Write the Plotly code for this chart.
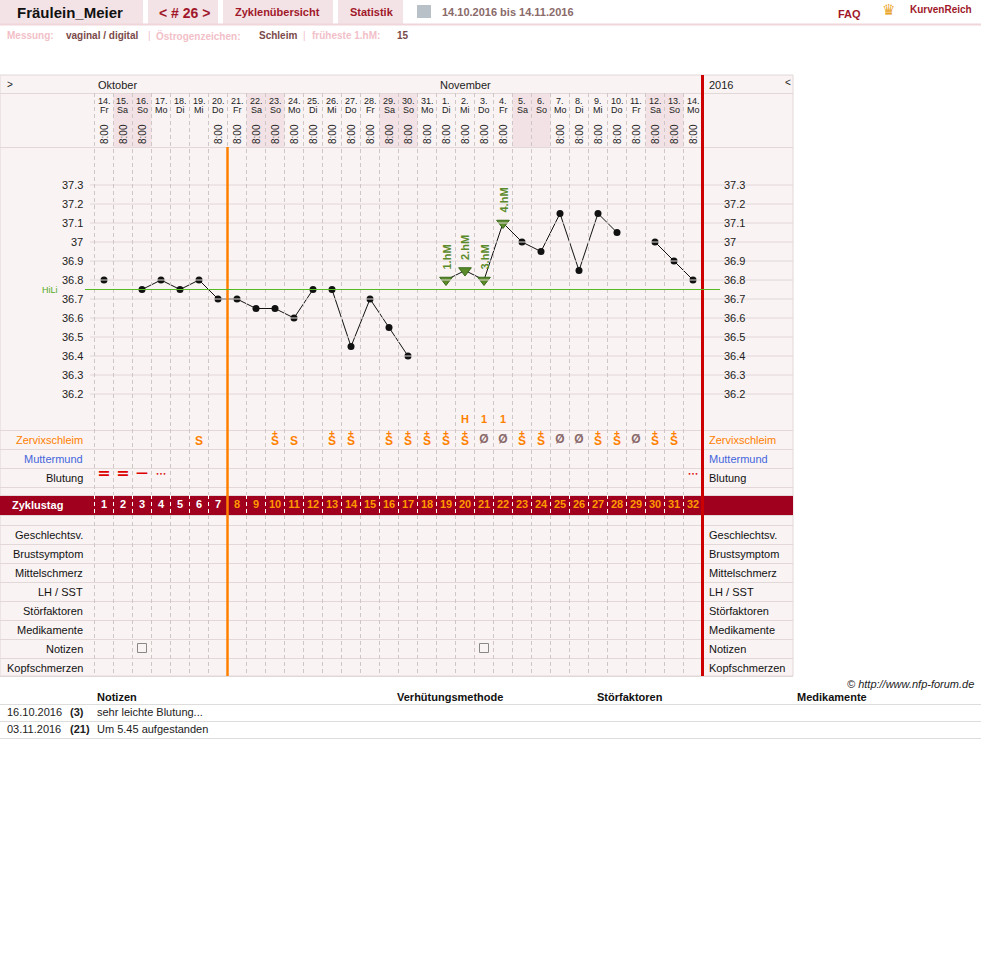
import plotly.graph_objects as go

W, H = 981, 976
FONT = "Liberation Sans"

# --- data ---
days = [14, 15, 16, 17, 18, 19, 20, 21, 22, 23, 24, 25, 26, 27, 28, 29, 30, 31,
        1, 2, 3, 4, 5, 6, 7, 8, 9, 10, 11, 12, 13, 14]
weekdays = ["Fr", "Sa", "So", "Mo", "Di", "Mi", "Do", "Fr", "Sa", "So", "Mo", "Di", "Mi", "Do", "Fr",
            "Sa", "So", "Mo", "Di", "Mi", "Do", "Fr", "Sa", "So", "Mo", "Di", "Mi", "Do", "Fr", "Sa", "So", "Mo"]
times = ["8:00", "8:00", "8:00", "", "", "", "8:00", "8:00", "8:00", "8:00", "8:00", "8:00", "8:00",
         "8:00", "8:00", "8:00", "8:00", "8:00", "8:00", "8:00", "8:00", "8:00", "", "", "8:00",
         "8:00", "8:00", "8:00", "8:00", "8:00", "8:00", "8:00"]
temps = [36.8, None, 36.75, 36.8, 36.75, 36.8, 36.7, 36.7, 36.65, 36.65, 36.6, 36.75, 36.75,
         36.45, 36.7, 36.55, 36.4, None, 36.8, 36.85, 36.8, 37.1, 37.0, 36.95, 37.15, 36.85,
         37.15, 37.05, None, 37.0, 36.9, 36.8]
hm_days = [18, 19, 20, 21]
hm_labels = ["1.hM", "2.hM", "3.hM", "4.hM"]
temp_ticks = [37.3, 37.2, 37.1, 37.0, 36.9, 36.8, 36.7, 36.6, 36.5, 36.4, 36.3, 36.2]
temp_tick_labels = ["37.3", "37.2", "37.1", "37", "36.9", "36.8", "36.7", "36.6", "36.5", "36.4", "36.3", "36.2"]
hili = 36.75
peak_days = [19, 20, 21]
peak_marks = ["H", "1", "1"]
schleim_days = [5, 9, 10, 12, 13, 15, 16, 17, 18, 19, 20, 21, 22, 23, 24, 25, 26, 27, 28, 29, 30]
schleim_vals = ["S", "S+", "S", "S+", "S+", "S+", "S+", "S+", "S+", "S+", "Ø", "Ø", "S+", "S+",
                "Ø", "Ø", "S+", "S+", "Ø", "S+", "S+"]
blutung_days = [0, 1, 2, 3, 31]
blutung_vals = ["stark", "stark", "normal", "leicht", "leicht"]
notiz_days = [2, 20]
cover_line_day = 7
rows_top = ["Zervixschleim", "Muttermund", "Blutung"]
rows_bottom = ["Geschlechtsv.", "Brustsymptom", "Mittelschmerz", "LH / SST", "Störfaktoren",
               "Medikamente", "Notizen", "Kopfschmerzen"]
note_dates = ["16.10.2016", "03.11.2016"]
note_cycle = ["(3)", "(21)"]
note_texts = ["sehr leichte Blutung...", "Um 5.45 aufgestanden"]

n = len(days)
idx = list(range(n))
X0, DX = 104, 19  # pixel center of first column, column width


def px(x):
    return x / W


def py(y):
    return 1 - y / H


def cx(i):
    return X0 + DX * i


shapes, ann = [], []


def rect(x0, y0, x1, y1, fill, line=None):
    shapes.append(dict(type="rect", xref="paper", yref="paper", x0=px(x0), x1=px(x1),
                       y0=py(y1), y1=py(y0), fillcolor=fill, line=dict(width=0) if line is None else line,
                       layer="below"))


def hline(y, x0, x1, color="#e2d8d8", width=1):
    shapes.append(dict(type="line", xref="paper", yref="paper", x0=px(x0), x1=px(x1),
                       y0=py(y), y1=py(y), line=dict(color=color, width=width)))


def text(x, y, t, size=11, color="#222", xanchor="left", bold=False, angle=0, italic=False):
    if bold:
        t = "<b>" + t + "</b>"
    if italic:
        t = "<i>" + t + "</i>"
    ann.append(dict(xref="paper", yref="paper", x=px(x), y=py(y), text=t, showarrow=False,
                    xanchor=xanchor, yanchor="middle", textangle=angle,
                    font=dict(family=FONT, size=size, color=color)))


# header
rect(0, 0, 143, 24, "#f3e3e6")
rect(148, 0, 218, 24, "#f3e3e6")
rect(223, 0, 333, 24, "#f3e3e6")
rect(338, 0, 403, 24, "#f3e3e6")
hline(24.5, 0, 981, "#f0d5da", 2)
text(15, 13, "Fräulein_Meier", 15, "#111", bold=True)
text(157, 13, "< # 26 >", 14, "#a0182a", bold=True)
text(233, 12, "Zyklenübersicht", 11, "#a0182a", bold=True)
text(348, 12, "Statistik", 11, "#a0182a", bold=True)
rect(417, 5, 431, 18, "#b8c0c8")
text(440, 12, "14.10.2016 bis 14.11.2016", 11, "#8a6a6a", bold=True)
text(836, 14, "FAQ", 11, "#a0182a", bold=True)
text(880, 10, "♛", 15, "#e8a020")
text(908, 10, "KurvenReich", 10, "#a0182a", bold=True)
text(5, 36, "Messung:", 10, "#f2c0c8", bold=True)
text(64, 36, "vaginal / digital", 10, "#7a4a4a", bold=True)
text(146, 36, "|", 10, "#f2c0c8")
text(154, 36, "Östrogenzeichen:", 10, "#f2c0c8", bold=True)
text(257, 36, "Schleim", 10, "#7a4a4a", bold=True)
text(301, 36, "|", 10, "#f2c0c8")
text(310, 36, "früheste 1.hM:", 10, "#f2c0c8", bold=True)
text(395, 36, "15", 10, "#7a4a4a", bold=True)

# chart background
rect(0, 75, 793, 676, "#f9f3f3", dict(color="#e2d8d8", width=1))
for i, wd in enumerate(weekdays):
    if wd in ("Sa", "So"):
        rect(cx(i) - 9.5, 93, cx(i) + 9.5, 147, "#f2e2e5")
rect(0, 495, 702, 515, "#a0001e")
rect(702, 495, 793, 515, "#a0001e")

for y in [93, 147, 430, 449, 468, 487, 495, 515, 525, 544, 563, 582, 601, 620, 639, 658, 676]:
    hline(y + 0.5, 0, 793)
for t in temp_ticks:
    shapes.append(dict(type="line", xref="paper", yref="y2", x0=px(90), x1=px(793), y0=t, y1=t,
                       line=dict(color="#e2d8d8", width=1)))
for i in range(n + 1):
    xx = X0 + DX * i - 9.5
    for (a, b, c) in [(93, 495, "#cfc6c6"), (495, 515, "#ffffff"), (515, 676, "#cfc6c6")]:
        shapes.append(dict(type="line", xref="paper", yref="paper", x0=px(xx), x1=px(xx),
                           y0=py(a), y1=py(b), line=dict(color=c, width=1, dash="4px,3px")))
# cover line / end of cycle
xo = X0 + DX * cover_line_day - 9.5
shapes.append(dict(type="line", xref="paper", yref="paper", x0=px(xo), x1=px(xo), y0=py(147), y1=py(676),
                   line=dict(color="#ff8000", width=2.5)))
xr = X0 + DX * n - 9.5
shapes.append(dict(type="line", xref="paper", yref="paper", x0=px(xr), x1=px(xr), y0=py(75), y1=py(676),
                   line=dict(color="#cc0000", width=3)))
# HiLi
shapes.append(dict(type="line", xref="paper", yref="y2", x0=px(85), x1=px(720), y0=hili, y1=hili,
                   line=dict(color="#55bb22", width=1)))
text(40, 290, "HiLi", 9, "#55aa22")

# month row
text(5, 84, ">", 10, "#222")
text(96, 85, "Oktober", 11, "#222")
text(438, 85, "November", 11, "#222")
text(707, 85, "2016", 11, "#222")
text(783, 83, "<", 10, "#222")

# date rows
for i in idx:
    text(cx(i), 101, f"{days[i]}.", 9, "#222", "center")
    text(cx(i), 110, weekdays[i], 9, "#222", "center")
    if times[i]:
        text(cx(i), 134, times[i], 10, "#222", "center", angle=-90)

# temperature tick labels
for t, lab in zip(temp_ticks, temp_tick_labels):
    ann.append(dict(xref="paper", yref="y2", x=px(85), y=t, text=lab, showarrow=False, xanchor="right",
                    font=dict(family=FONT, size=11, color="#222")))
    ann.append(dict(xref="paper", yref="y2", x=px(722), y=t, text=lab, showarrow=False, xanchor="left",
                    font=dict(family=FONT, size=11, color="#222")))

# row labels
lab_colors = {"Zervixschleim": "#ff8000", "Muttermund": "#4466dd"}
for k, lab in enumerate(rows_top):
    y = 440 + 19 * k
    text(85, y, lab, 11, lab_colors.get(lab, "#111"), "right")
    text(707, y, lab, 11, lab_colors.get(lab, "#111"))
for k, lab in enumerate(rows_bottom):
    y = 535 + 19 * k
    text(85, y, lab, 11, "#111", "right")
    text(707, y, lab, 11, "#111")
text(10, 505, "Zyklustag", 11, "#ffffff", bold=True)

text(976, 684, "© http://www.nfp-forum.de", 11, "#222", "right", italic=True)

# notes table
for lab, x in [("Notizen", 95), ("Verhütungsmethode", 395), ("Störfaktoren", 595), ("Medikamente", 795)]:
    text(x, 697, lab, 11, "#111", bold=True)
for y in [704.5, 721.5, 738.5]:
    hline(y, 0, 981, "#dddddd")
for k in range(len(note_dates)):
    y = 712 + 17 * k
    text(5, y, note_dates[k], 11, "#222")
    text(68, y, note_cycle[k], 11, "#222", bold=True)
    text(95, y, note_texts[k], 11, "#222")

fig = go.Figure()

# temperature curve
fig.add_trace(go.Scatter(x=idx, y=temps, yaxis="y2", mode="lines", connectgaps=False,
                         line=dict(color="#111", width=1)))
fig.add_trace(go.Scatter(x=[i for i in idx if temps[i] is not None and i not in hm_days],
                         y=[temps[i] for i in idx if temps[i] is not None and i not in hm_days],
                         yaxis="y2", mode="markers", marker=dict(color="#111", size=7)))
fig.add_trace(go.Scatter(x=hm_days, y=[temps[d] for d in hm_days], yaxis="y2", mode="markers",
                         marker=dict(symbol="triangle-down", color="#5a8a2a", size=11,
                                     line=dict(color="#3a6a1a", width=1))))
for d, lab in zip(hm_days, hm_labels):
    ann.append(dict(xref="x", yref="y2", x=d, y=temps[d], text="<b>" + lab + "</b>", showarrow=False,
                    textangle=-90, yanchor="bottom", yshift=8, font=dict(family=FONT, size=11, color="#5a8a2a")))

# peak marks
fig.add_trace(go.Scatter(x=peak_days, y=[420] * len(peak_days), mode="text",
                         text=["<b>" + m + "</b>" for m in peak_marks],
                         textfont=dict(family=FONT, size=11, color="#ff8000")))

# Zervixschleim
plus_days = [d for d, v in zip(schleim_days, schleim_vals) if v == "S+"]
s_days = [d for d, v in zip(schleim_days, schleim_vals) if v != "Ø"]
o_days = [d for d, v in zip(schleim_days, schleim_vals) if v == "Ø"]
fig.add_trace(go.Scatter(x=plus_days, y=[434] * len(plus_days), mode="text", text=["<b>+</b>"] * len(plus_days),
                         textfont=dict(family=FONT, size=10, color="#ff8000")))
fig.add_trace(go.Scatter(x=s_days, y=[442] * len(s_days), mode="text", text=["<b>S</b>"] * len(s_days),
                         textfont=dict(family=FONT, size=12, color="#ff8000")))
fig.add_trace(go.Scatter(x=o_days, y=[440] * len(o_days), mode="text", text=["<b>Ø</b>"] * len(o_days),
                         textfont=dict(family=FONT, size=12, color="#8a6a6a")))

# Blutung
b_sym = {"stark": "<b>=</b>", "normal": "<b>—</b>", "leicht": "•••"}
b_size = {"stark": 16, "normal": 12, "leicht": 6}
fig.add_trace(go.Scatter(x=blutung_days, y=[474] * len(blutung_days), mode="text",
                         text=[b_sym[v] for v in blutung_vals],
                         textfont=dict(family="DejaVu Sans", size=[b_size[v] for v in blutung_vals],
                                       color="#dd0000")))

# Zyklustag numbers
fig.add_trace(go.Scatter(x=idx, y=[505] * n, mode="text", text=[f"<b>{i + 1}</b>" for i in idx],
                         textfont=dict(family=FONT, size=11,
                                       color=["#ffffff" if i < cover_line_day else "#ff9900" for i in idx])))

# Notizen icons
fig.add_trace(go.Scatter(x=notiz_days, y=[648] * len(notiz_days), mode="markers",
                         marker=dict(symbol="square-open", size=9, color="#888", line=dict(width=1))))

fig.update_layout(
    width=W, height=H, margin=dict(l=0, r=0, t=0, b=0), showlegend=False,
    paper_bgcolor="white", plot_bgcolor="rgba(0,0,0,0)",
    xaxis=dict(range=[-X0 / DX, (W - X0) / DX], visible=False, domain=[0, 1]),
    yaxis=dict(range=[H, 0], visible=False, domain=[0, 1]),
    yaxis2=dict(overlaying="y", range=[37.3 - (H - 185) / 190, 37.3 + 185 / 190], visible=False),
    shapes=shapes, annotations=ann, hovermode=False,
)

fig.write_html("out.html", config={"displayModeBar": False},
               post_script="document.body.style.margin='0px';document.body.style.overflow='hidden';")
